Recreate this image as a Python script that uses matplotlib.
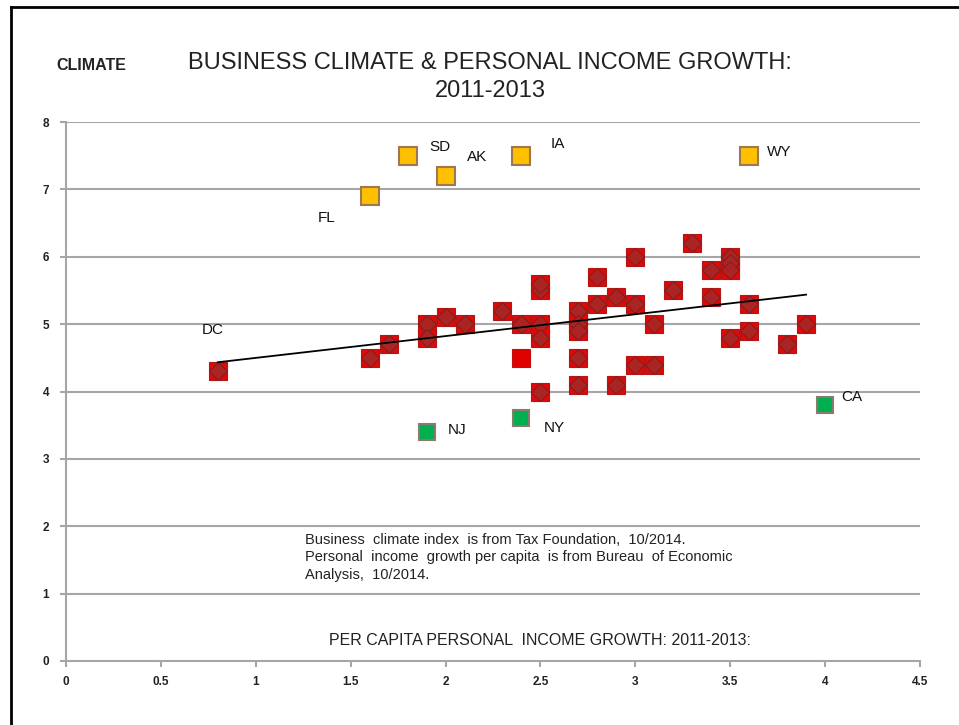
import numpy as np
import matplotlib
matplotlib.use("Agg")
import matplotlib.pyplot as plt
from matplotlib.lines import Line2D

plt.rcParams['font.family'] = ['Liberation Sans', 'DejaVu Sans']

# state groups: per capita income growth (x) vs business climate index (y)
red_x = [0.8, 1.6, 1.7, 1.9, 1.9, 2.0, 2.1, 2.3, 2.4, 2.5, 2.5, 2.5, 2.5, 2.5,
         2.7, 2.7, 2.7, 2.7, 2.7, 2.8, 2.8, 2.9, 2.9, 3.0, 3.0, 3.0, 3.1, 3.1,
         3.2, 3.3, 3.4, 3.4, 3.5, 3.5, 3.5, 3.5, 3.6, 3.6, 3.8, 3.9]
red_y = [4.3, 4.5, 4.7, 5.0, 4.8, 5.1, 5.0, 5.2, 5.0, 5.0, 5.5, 5.6, 4.8, 4.0,
         5.2, 5.0, 4.9, 4.5, 4.1, 5.7, 5.3, 5.4, 4.1, 6.0, 5.3, 4.4, 4.4, 5.0,
         5.5, 6.2, 5.8, 5.4, 6.0, 5.9, 5.8, 4.8, 5.3, 4.9, 4.7, 5.0]

plain_x = [2.4]
plain_y = [4.5]

top_states = ['FL', 'SD', 'AK', 'IA', 'WY']
top_x = [1.6, 1.8, 2.0, 2.4, 3.6]
top_y = [6.9, 7.5, 7.2, 7.5, 7.5]

low_states = ['NJ', 'NY', 'CA']
low_x = [1.9, 2.4, 4.0]
low_y = [3.4, 3.6, 3.8]

# label positions for the state names
label_names = ['DC', 'FL', 'SD', 'AK', 'IA', 'WY', 'NJ', 'NY', 'CA']
label_x = [0.775, 1.375, 1.97, 2.165, 2.59, 3.76, 2.06, 2.575, 4.14]
label_y = [4.91, 6.57, 7.63, 7.48, 7.67, 7.55, 3.43, 3.46, 3.92]

x_ticks = [0, 0.5, 1, 1.5, 2, 2.5, 3, 3.5, 4, 4.5]
y_ticks = [0, 1, 2, 3, 4, 5, 6, 7, 8]

note = ("Business  climate index  is from Tax Foundation,  10/2014.\n"
        "Personal  income  growth per capita  is from Bureau  of Economic\n"
        "Analysis,  10/2014.")

###########################################################################
## Fig setup
###########################################################################
fig = plt.figure(figsize=(9.59, 7.25), dpi=100)
fig.patch.set_facecolor('white')

ax = fig.add_axes([0.0688, 0.0883, 0.8905, 0.7434])

grid_c = '#a6a6a6'
ax.set_xlim(0, 4.5)
ax.set_ylim(0, 8)
ax.set_xticks(x_ticks)
ax.set_yticks(y_ticks)
ax.set_xticklabels([f'{t:g}' for t in x_ticks])
ax.set_yticklabels([f'{t:g}' for t in y_ticks])
for t in y_ticks[1:]:
   ax.axhline(t, color=grid_c, lw=1.5, zorder=1)
for side in ['top', 'right']:
   ax.spines[side].set_visible(False)
for side in ['left', 'bottom']:
   ax.spines[side].set_color(grid_c)
   ax.spines[side].set_linewidth(1.5)
ax.tick_params(axis='both', direction='out', length=4, width=1.5,
   color=grid_c, labelsize=8.5)
ax.tick_params(axis='x', pad=7)
ax.tick_params(axis='y', pad=8)
for lab in ax.get_xticklabels() + ax.get_yticklabels():
   lab.set_fontweight('bold')
   lab.set_color('#222222')

###########################################################################
## Plot data
###########################################################################
# trend line over the red series
coef = np.polyfit(red_x, red_y, 1)
xs = np.array([min(red_x), max(red_x)])
ax.plot(xs, np.polyval(coef, xs), color='black', lw=1.3, zorder=4)

ax.plot(red_x, red_y, ls='none', marker='s', ms=13.5, mfc='#dd0a0a',
   mec='#b01818', mew=0.8, zorder=3)
ax.plot(red_x, red_y, ls='none', marker='D', ms=9.3, mfc='#ab2424',
   mec='#7e1a1a', mew=0.6, zorder=3)
ax.plot(plain_x, plain_y, ls='none', marker='s', ms=13.5, mfc='#e00000',
   mec='#c01010', mew=0.8, zorder=3)

ax.plot(top_x, top_y, ls='none', marker='s', ms=12.5, mfc='#ffc000',
   mec='#a07850', mew=1.5, zorder=3)
ax.plot(low_x, low_y, ls='none', marker='s', ms=12, mfc='#00b050',
   mec='#8a7a70', mew=1.5, zorder=3)

for name, lx, ly in zip(label_names, label_x, label_y):
   ax.text(lx, ly, name, ha='center', va='center', fontsize=11,
      color='#111111')

ax.text(1.26, 1.9, note, ha='left', va='top', fontsize=10.5, color='#222222',
   linespacing=1.3)
ax.text(2.5, 0.31, 'PER CAPITA PERSONAL  INCOME GROWTH: 2011-2013:',
   ha='center', va='center', fontsize=11.5, color='#222222')

###########################################################################
## Titles and frame
###########################################################################
fig.text(0.511, 1 - 63 / 725, 'BUSINESS CLIMATE & PERSONAL INCOME GROWTH:',
   ha='center', va='center', fontsize=17, color='#222222')
fig.text(0.511, 1 - 91 / 725, '2011-2013',
   ha='center', va='center', fontsize=17, color='#222222')
fig.text(0.095, 1 - 66 / 725, 'CLIMATE', ha='center', va='center', fontsize=11.5,
   color='#222222', fontweight='bold')

fig.add_artist(Line2D([0.0115, 0.0115], [0.0, 0.9905], transform=fig.transFigure,
   color='black', lw=2))
fig.add_artist(Line2D([0.0115, 1.0], [0.9905, 0.9905], transform=fig.transFigure,
   color='black', lw=2))

fig.savefig('out.png', dpi=100)
